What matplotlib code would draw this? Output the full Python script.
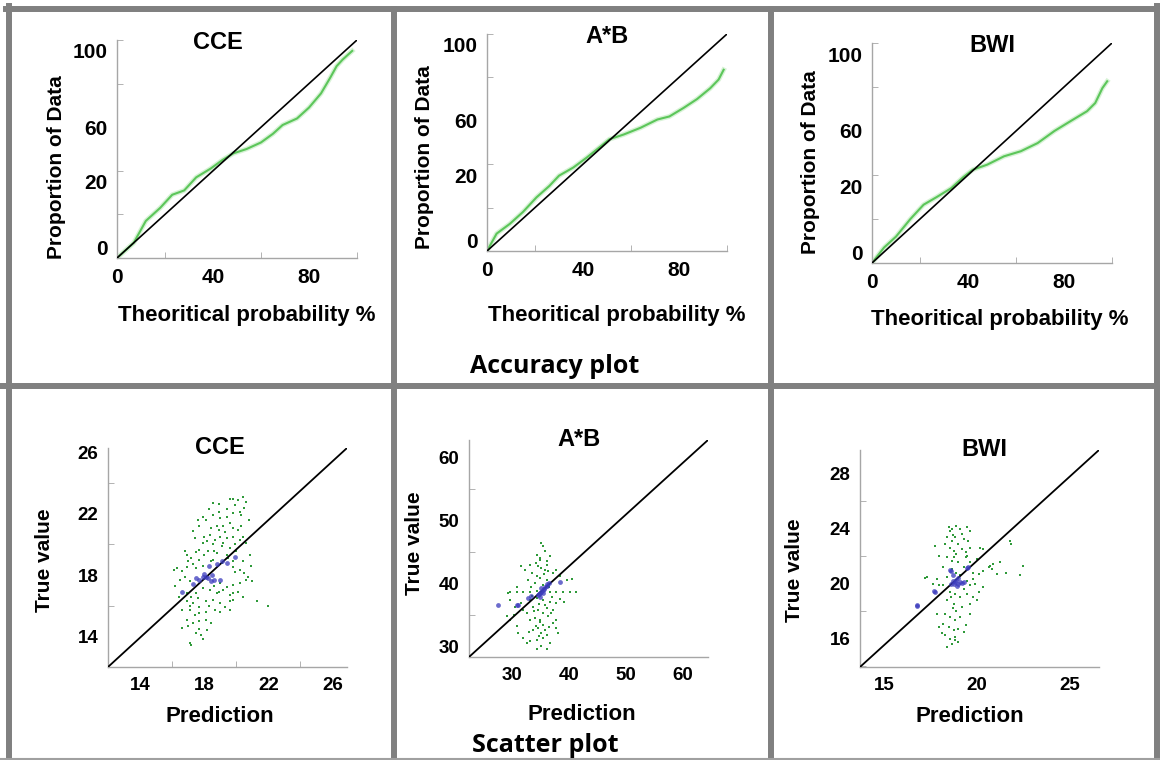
import matplotlib
matplotlib.use('Agg')
import matplotlib.pyplot as plt
from matplotlib.lines import Line2D

W, H = 1160, 760

# ---- accuracy plots: theoretical probability % vs proportion of data %
cce_acc_x = [0, 7, 12, 18, 23, 28, 33, 39, 44, 48.5, 54, 60, 65, 69, 75, 80, 85, 89, 91.5, 94, 98]
cce_acc_y = [0, 7, 17, 23, 29, 31, 37, 41, 45, 48, 50, 53, 57, 61, 64, 69, 75.5, 83, 88, 91, 95]
ab_acc_x = [0, 4, 9.5, 15, 20.6, 26, 30, 36, 41.5, 46, 51, 57, 64, 71, 76, 82, 87.5, 93, 96.5, 98.6]
ab_acc_y = [0, 8, 12.5, 18, 24.7, 30, 34.7, 38.5, 43, 47, 51.5, 53.7, 56.8, 60.6, 62, 66, 70, 75, 79, 83.5]
bwi_acc_x = [0, 5, 10, 16, 21.5, 27, 33, 38, 42, 48, 55, 62, 69, 76, 82.6, 89.6, 93, 96, 98]
bwi_acc_y = [0, 7, 12, 20, 26.5, 30, 34, 39, 42.4, 44.7, 48.5, 50.8, 54.5, 60, 64.4, 69, 72.7, 79.5, 82.6]
diag = [0, 100]

acc_xticks = [0, 40, 80]
acc_yticks = [5, 35, 60, 95]
acc_ylabels = ['0', '20', '60', '100']

# ---- scatter plots: prediction vs true value
cce_green = [
    (19.8, 23.0), (20.1, 22.9), (20.4, 23.1), (20.5, 22.4), (19.9, 22.6), (18.55, 22.7), (18.9, 22.65),
    (17.9, 21.8), (18.1, 21.6), (18.55, 21.9), (19.0, 21.7), (19.4, 21.8), (19.8, 22.05), (20.2, 22.15),
    (19.6, 21.4), (18.8, 21.2), (18.45, 21.05), (18.9, 20.95), (19.2, 21.2), (19.8, 21.05), (20.1, 20.95),
    (20.3, 21.2), (17.3, 20.85), (17.7, 21.2), (18.0, 20.5), (18.35, 20.6), (19.0, 20.5), (19.4, 20.4),
    (19.8, 20.5), (20.2, 20.3), (20.4, 20.5), (17.9, 20.1), (18.55, 20.0), (19.1, 19.9), (19.6, 19.75),
    (19.9, 20.0), (17.7, 19.65), (18.25, 19.55), (18.8, 19.45), (19.4, 19.3), (16.9, 19.3), (17.2, 19.1),
    (17.7, 19.0), (18.55, 19.0), (19.8, 18.9), (20.4, 18.9), (20.85, 19.3), (16.1, 18.35), (16.3, 18.45),
    (16.6, 18.25), (16.9, 18.55), (17.3, 18.7), (17.5, 18.45), (19.8, 18.55), (20.2, 18.35), (20.5, 18.15),
    (20.75, 17.9), (16.5, 17.7), (16.8, 17.9), (17.1, 17.6), (19.0, 17.5), (19.4, 17.25), (19.8, 17.35),
    (20.2, 17.5), (16.9, 16.8), (17.2, 16.6), (17.5, 16.8), (17.9, 17.15), (18.35, 17.05), (18.8, 16.8),
    (19.2, 17.05), (19.6, 16.7), (19.8, 16.8), (16.9, 16.3), (17.3, 16.2), (17.7, 15.95), (18.1, 16.3),
    (18.55, 16.4), (19.0, 16.2), (19.6, 16.3), (19.8, 16.4), (20.4, 16.6), (21.3, 16.3), (22.0, 16.0),
    (16.6, 15.75), (17.1, 15.75), (17.7, 15.5), (18.1, 15.6), (18.65, 15.75), (19.0, 15.6), (19.6, 15.75),
    (16.9, 15.1), (17.3, 14.85), (17.7, 15.0), (18.1, 15.1), (16.6, 14.55), (17.0, 14.65), (17.5, 14.2),
    (17.8, 14.1), (17.9, 13.8), (17.7, 14.45), (17.1, 13.55), (17.2, 13.45),
    (18.2, 20.2), (18.7, 20.3), (19.3, 20.8), (18.0, 19.3), (19.1, 18.8), (18.4, 18.9), (17.5, 19.5),
    (19.5, 19.1), (20.0, 19.6), (18.9, 22.1), (19.4, 22.3), (20.3, 21.9), (17.4, 20.4), (16.8, 19.6),
    (17.0, 18.9), (19.9, 18.2), (20.6, 17.7), (18.6, 17.3), (17.6, 16.5), (18.3, 16.0), (19.3, 15.9),
    (18.9, 16.9), (17.4, 15.4), (18.4, 14.9), (16.4, 16.6), (16.2, 17.3), (20.1, 16.9), (21.0, 17.6),
    (20.9, 18.6), (20.6, 20.1), (20.8, 21.6), (20.6, 22.8), (18.3, 22.3), (17.6, 21.6), (19.6, 23.0),
    (18.2, 14.4), (17.1, 16.0), (19.2, 20.1), (18.6, 19.6), (17.9, 18.6),
]
cce_blue = [
    (16.6, 16.9), (17.3, 17.4), (17.7, 17.7), (18.0, 18.1), (18.25, 17.8), (18.6, 17.7), (19.0, 17.7),
    (18.3, 18.6), (18.8, 18.7), (19.4, 18.8), (19.9, 19.2), (17.9, 17.9), (17.5, 17.8), (18.1, 17.9),
    (18.5, 18.0), (19.1, 18.9), (18.4, 17.6),
]

ab_green = [
    (35.2, 46.4), (35.5, 45.9), (35.8, 45.1), (34.35, 44.5), (34.9, 43.75), (36.1, 43.5), (36.7, 44.3),
    (33.2, 43.0), (34.6, 42.7), (35.2, 42.4), (35.8, 42.2), (36.1, 43.0), (37.25, 41.6), (34.35, 41.1),
    (34.9, 40.8), (36.1, 40.6), (37.8, 42.2), (38.4, 41.1), (39.6, 40.6), (40.5, 40.7), (32.9, 40.6),
    (33.45, 39.5), (32.3, 42.2), (31.7, 42.7),
    (29.7, 38.7), (30.85, 38.6), (32.0, 38.7), (33.2, 38.7), (34.35, 38.8), (36.7, 38.7), (37.8, 38.6),
    (39.0, 38.7), (40.2, 38.7), (41.3, 38.7), (29.4, 38.5),
    (29.7, 37.4), (30.55, 36.3), (31.7, 36.9), (33.2, 37.4), (34.35, 37.7), (35.5, 37.4), (36.7, 37.1),
    (37.8, 36.9), (33.75, 36.3), (34.6, 35.8), (35.5, 35.3), (36.1, 36.1), (36.95, 35.3), (37.8, 34.2),
    (37.25, 33.7), (32.6, 35.3), (33.2, 34.2), (34.05, 34.5), (34.9, 34.2), (35.5, 33.4), (34.6, 32.9),
    (33.75, 32.6), (35.2, 32.1), (36.1, 31.8), (35.5, 31.3), (34.35, 31.05), (33.2, 30.8), (32.6, 30.5),
    (32.0, 31.3), (30.85, 33.2), (31.1, 32.1), (29.1, 34.75), (29.7, 34.2), (37.25, 35.8), (37.8, 32.9),
    (36.7, 30.5), (35.2, 30.0), (34.35, 29.5), (36.1, 29.5), (38.1, 32.1),
    (35.0, 44.0), (34.2, 43.3), (35.6, 41.5), (36.4, 41.9), (34.0, 40.0), (35.4, 39.8), (36.5, 39.4),
    (33.6, 41.7), (34.8, 36.8), (35.9, 36.6), (33.9, 35.6), (36.3, 34.8), (35.0, 33.8), (34.2, 33.3),
    (36.5, 33.0), (33.1, 32.3), (35.8, 32.6), (34.7, 31.6), (31.9, 35.8), (30.4, 34.9), (38.5, 37.6),
    (39.2, 37.0), (37.0, 37.8), (33.5, 38.0), (30.9, 39.4),
]
ab_blue = [
    (35.2, 38.7), (35.0, 38.5), (35.4, 38.9), (35.6, 39.1), (34.8, 38.3), (35.8, 39.4), (34.6, 38.2),
    (35.1, 39.2), (35.5, 38.4), (36.1, 39.9), (36.6, 40.1), (38.4, 40.2), (32.9, 37.7), (33.4, 38.0),
    (31.1, 36.5), (30.9, 36.6), (27.6, 36.5), (36.2, 39.6), (34.9, 37.9),
]

bwi_green = [
    (18.5, 24.1), (18.55, 23.85), (18.65, 23.95), (18.9, 24.2), (19.1, 23.95), (19.45, 24.1), (19.65, 23.85),
    (18.4, 23.35), (18.65, 23.1), (18.85, 23.35), (19.0, 22.9), (19.3, 23.25), (19.55, 23.1), (18.55, 22.6),
    (18.75, 22.4), (18.9, 22.15), (19.2, 22.5), (19.4, 22.3), (19.65, 22.6), (17.75, 22.75), (17.95, 22.0),
    (18.4, 21.9), (18.65, 21.65), (19.0, 21.55), (19.4, 21.9), (19.65, 21.55), (20.2, 22.6), (20.35, 22.5),
    (18.2, 21.2), (18.65, 21.05), (18.9, 20.8), (19.3, 21.2), (19.8, 20.8), (20.1, 20.7), (17.85, 20.35),
    (17.2, 20.4), (17.3, 20.45),
    (17.65, 19.95), (17.95, 19.9), (18.2, 19.9), (19.65, 19.9), (19.9, 19.95), (19.45, 20.2), (19.8, 20.35),
    (20.65, 21.2), (20.7, 21.3), (20.8, 21.05), (20.9, 21.4), (21.8, 23.1), (21.85, 22.9), (22.5, 21.3),
    (22.35, 20.6), (21.6, 20.8), (21.25, 21.55), (21.1, 20.7), (20.35, 20.95),
    (18.55, 19.4), (18.85, 19.25), (19.1, 19.0), (19.45, 19.25), (19.8, 19.0), (20.1, 19.4), (20.35, 19.75),
    (18.4, 18.8), (18.75, 18.5), (18.9, 18.05), (19.2, 18.3), (19.65, 18.5), (18.3, 17.8), (18.55, 17.6),
    (18.85, 17.35), (19.1, 17.6), (18.2, 17.1), (18.5, 16.85), (18.75, 16.6), (19.0, 16.7), (19.3, 16.5),
    (17.95, 16.85), (18.3, 16.25), (18.55, 16.0), (18.85, 15.9), (18.65, 15.6), (18.85, 16.1), (19.65, 17.8),
    (20.0, 18.8), (17.85, 17.8),
    (18.7, 23.5), (19.2, 23.6), (18.3, 22.9), (19.5, 22.0), (18.8, 21.9), (19.1, 20.6), (18.4, 20.5),
    (20.0, 21.8), (18.6, 19.0), (19.3, 19.6), (18.7, 18.2), (19.4, 17.0), (18.1, 16.4), (19.0, 15.8),
    (18.4, 15.4),
]
bwi_blue = [
    (18.85, 20.1), (18.7, 20.2), (19.0, 20.0), (19.1, 20.15), (18.6, 20.0), (19.2, 20.05), (18.9, 20.3),
    (18.75, 19.95), (19.3, 20.1), (18.6, 20.9), (18.55, 21.0), (18.7, 20.6), (19.55, 21.2), (19.45, 21.1),
    (17.75, 19.4), (17.7, 19.5), (16.8, 18.4), (16.75, 18.45), (18.95, 19.85), (19.0, 20.4),
]

plt.rcParams['font.family'] = ['Liberation Sans', 'DejaVu Sans']
plt.rcParams['font.weight'] = 'bold'

fig = plt.figure(figsize=(W / 100, H / 100), dpi=100)


def rect(x0, y0, x1, y1):
    # pixel box (top-left origin) -> figure fraction
    return [x0 / W, 1 - y1 / H, (x1 - x0) / W, (y1 - y0) / H]


def style_axes(ax):
    for s in ['top', 'right']:
        ax.spines[s].set_visible(False)
    for s in ['left', 'bottom']:
        ax.spines[s].set_color('#a6a6a6')
        ax.spines[s].set_linewidth(1.0)
    ax.tick_params(which='both', direction='in', color='#a6a6a6')
    ax.tick_params(which='major', length=0, pad=7)
    ax.tick_params(which='minor', length=4)


# ---- top row: accuracy plots
acc_panels = [
    ('CCE', cce_acc_x, cce_acc_y, rect(117, 40, 357, 258), 0.42),
    ('A*B', ab_acc_x, ab_acc_y, rect(487, 34, 727, 251), 0.5),
    ('BWI', bwi_acc_x, bwi_acc_y, rect(872, 43, 1112, 263), 0.5),
]
acc_xlab_pos = [(247, 316), (617, 316), (1000, 320)]
acc_ylab_pos = [(57, 167), (425, 157), (810, 162)]

for (name, xs, ys, r, tx), xl, yl in zip(acc_panels, acc_xlab_pos, acc_ylab_pos):
    ax = fig.add_axes(r)
    ax.plot(diag, diag, color='black', lw=1.2, zorder=3)
    ax.plot(xs, ys, color='#8fdc8a', lw=3.5, alpha=0.35, zorder=2)
    ax.plot(xs, ys, color='#5cc65a', lw=1.5, zorder=2)
    ax.set_xlim(0, 100)
    ax.set_ylim(0, 100)
    ax.set_xticks(acc_xticks)
    ax.set_xticklabels([str(v) for v in acc_xticks], fontweight='bold', fontsize=15)
    ax.set_yticks(acc_yticks)
    ax.set_yticklabels(acc_ylabels, fontweight='bold', fontsize=15)
    ax.set_xticks(range(0, 101, 20), minor=True)
    ax.set_yticks(range(0, 101, 20), minor=True)
    style_axes(ax)
    ax.text(tx, 0.99, name, transform=ax.transAxes, ha='center', va='center',
            fontsize=17, fontweight='bold')
    fig.text(xl[0] / W, 1 - xl[1] / H, 'Theoritical probability %', ha='center', va='center',
             fontsize=16, fontweight='bold')
    fig.text(yl[0] / W, 1 - yl[1] / H, 'Proportion of Data', ha='center', va='center',
             rotation=90, fontsize=15, fontweight='bold')

# ---- bottom row: scatter plots
sc_panels = [
    ('CCE', cce_green, cce_blue, rect(108, 448, 347, 667), (12, 26.9), (12, 26.3),
     [14, 18, 22, 26], [14, 18, 22, 26], 2, 2, 0.47),
    ('A*B', ab_green, ab_blue, rect(469, 440, 708, 657), (22.5, 64.4), (28.3, 62.8),
     [30, 40, 50, 60], [30, 40, 50, 60], 10, 5, 0.46),
    ('BWI', bwi_green, bwi_blue, rect(860, 450, 1099, 667), (13.7, 26.6), (13.95, 29.7),
     [15, 20, 25], [16, 20, 24, 28], 5, 2, 0.52),
]
sc_xlab_pos = [(220, 717), (582, 715), (970, 717)]
sc_ylab_pos = [(45, 560), (415, 543), (795, 570)]

for (name, gr, bl, r, xlim, ylim, xt, yt, xm, ym, tx), xl, yl in zip(sc_panels, sc_xlab_pos, sc_ylab_pos):
    ax = fig.add_axes(r)
    ax.plot([0, 1], [0, 1], transform=ax.transAxes, color='black', lw=1.3, zorder=3)
    gx, gy = zip(*gr)
    bx, by = zip(*bl)
    ax.scatter(gx, gy, s=3, color='#2f9a3a', marker='s', linewidths=0, zorder=2)
    ax.scatter(bx, by, s=12, color='#3b3bbd', alpha=0.75, linewidths=0, zorder=4)
    ax.set_xlim(*xlim)
    ax.set_ylim(*ylim)
    ax.set_xticks(xt)
    ax.set_xticklabels([str(v) for v in xt], fontweight='bold', fontsize=13.5)
    ax.set_yticks(yt)
    ax.set_yticklabels([str(v) for v in yt], fontweight='bold', fontsize=13.5)
    ax.set_xticks([v for v in range(int(xlim[0]) + 1, int(xlim[1]) + 1) if v % xm == 0], minor=True)
    ax.set_yticks([v for v in range(int(ylim[0]) + 1, int(ylim[1]) + 1) if v % ym == 0], minor=True)
    style_axes(ax)
    ax.text(tx, 1.0, name, transform=ax.transAxes, ha='center', va='center',
            fontsize=17, fontweight='bold')
    fig.text(xl[0] / W, 1 - xl[1] / H, 'Prediction', ha='center', va='center',
             fontsize=16, fontweight='bold')
    fig.text(yl[0] / W, 1 - yl[1] / H, 'True value', ha='center', va='center',
             rotation=90, fontsize=15, fontweight='bold')

fig.text(555 / W, 1 - 366 / H, 'Accuracy plot', ha='center', va='center',
         fontsize=18, fontweight='bold', family=['Open Sans', 'DejaVu Sans'])
fig.text(545 / W, 1 - 745 / H, 'Scatter plot', ha='center', va='center',
         fontsize=18, fontweight='bold', family=['Open Sans', 'DejaVu Sans'])

# ---- grey panel borders
border = '#808080'
lines = [
    ((6, 9), (1160, 9)), ((9, 6), (9, 760)), ((0, 386), (1160, 386)),
    ((394, 9), (394, 760)), ((771, 9), (771, 760)), ((1157, 6), (1157, 760)),
]
for (x0, y0), (x1, y1) in lines:
    fig.add_artist(Line2D([x0 / W, x1 / W], [1 - y0 / H, 1 - y1 / H], color=border, lw=4.3,
                          transform=fig.transFigure))
fig.add_artist(Line2D([0, 1], [1 - 759 / H, 1 - 759 / H], color='#a0a0a0', lw=1.5,
                      transform=fig.transFigure))

fig.savefig('out.png', dpi=100, facecolor='white')
